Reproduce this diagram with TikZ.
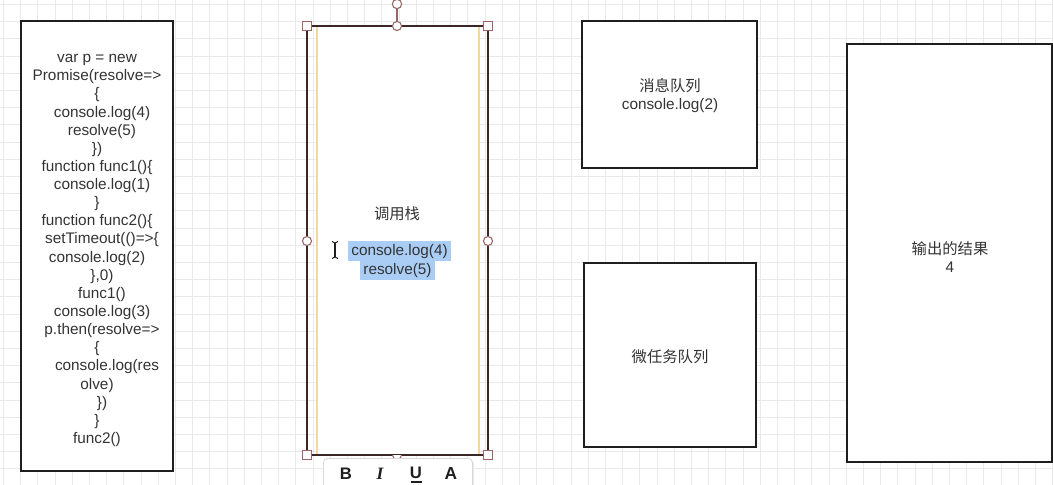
\documentclass[tikz,border=0pt]{standalone}
\usepackage{fontspec}
\setmainfont{Liberation Sans}
\newfontfamily\cjk{Noto Sans CJK SC}
\newfontfamily\serifbi{Liberation Serif}
\definecolor{gridc}{HTML}{E9E9E9}
\definecolor{boxc}{HTML}{1E1E1E}
\definecolor{txtc}{HTML}{333333}
\definecolor{selc}{HTML}{3A2626}
\definecolor{handc}{HTML}{9A6464}
\definecolor{yelc}{HTML}{F2D7A0}
\definecolor{hlc}{HTML}{AACDF6}
\definecolor{tbc}{HTML}{D8D8D8}
\newcommand{\sh}{\hspace*{7.5pt}}
\newcommand{\shh}{\hspace*{15pt}}
\tikzset{
  gridline/.style={draw=gridc, line width=0.75pt},
  box/.style 2 args={draw=boxc, line width=1.5pt, fill=white, minimum width=#1*0.75pt, minimum height=#2*0.75pt, inner sep=0pt},
  txt/.style={text=txtc, font=\fontsize{11.5}{13.6}\selectfont, align=center, inner sep=0pt},
  hl/.style={fill=hlc, inner xsep=2.6pt, inner ysep=0pt, text height=10.5pt, text depth=4.2pt},
  handle/.style={draw=handc, fill=white, line width=0.8pt},
  tbtxt/.style={text=boxc, inner sep=0pt},
}
\begin{document}
\begin{tikzpicture}[x=0.75pt, y=-0.75pt]
\useasboundingbox (0,0) rectangle (1053,485);
\fill[white] (0,0) rectangle (1053,485);
% grid
\foreach \i in {0,...,61} \draw[gridline] ({3.5+17.2*\i},0) -- ({3.5+17.2*\i},485);
\foreach \j in {0,...,28} \draw[gridline] (0,{4.5+17.2*\j}) -- (1053,{4.5+17.2*\j});

% code box
\node[box={152}{450}] (code) at (97,246) {};
\node[txt] (codetxt) at (97,250.5) {var p = new\\Promise(resolve=>\\\{\\\sh console.log(4)\\\sh resolve(5)\\\})\\function func1()\{\\\sh console.log(1)\\\}\\function func2()\{\\\sh setTimeout(()=>\{\\console.log(2)\\\sh \},0)\\\sh func1()\\\sh console.log(3)\\\sh p.then(resolve=>\\\{\\\shh console.log(res\\olve)\\\sh \})\\\}\\func2()};

% call stack (selected)
\node[box={162}{429}, draw=yelc, line width=1.5pt] (stack) at (397.5,240.5) {};
\draw[selc, line width=1.3pt] (307,26) rectangle (488,455);
\node[txt] (stacktitle) at (397,214) {\cjk 调用栈};
\node[txt, hl] (log4) at (399.5,251) {console.log(4)};
\node[txt, hl] (res5) at (397.5,270.5) {resolve(5)};
% text cursor
\draw[boxc, line width=0.9pt] (335,243) -- (335,257);
\draw[boxc, line width=0.8pt] (332,241.5) .. controls (334,241.5) .. (335,243) .. controls (336,241.5) .. (338,241.5);
\draw[boxc, line width=0.8pt] (332,258.5) .. controls (334,258.5) .. (335,257) .. controls (336,258.5) .. (338,258.5);
% selection handles
\coordinate (rotc) at (397,4);
\draw[handc, line width=1pt] (397,8.5) -- (397,21.5);
\node[handle, circle, minimum size=7pt, inner sep=0pt] (rot) at (rotc) {};
\node[handle, circle, minimum size=6.8pt, inner sep=0pt] (hT) at (397,26) {};
\node[handle, circle, minimum size=6.8pt, inner sep=0pt] (hL) at (307,241) {};
\node[handle, circle, minimum size=6.8pt, inner sep=0pt] (hR) at (488,241) {};
\draw[handle] (392.5,455) arc (180:0:4.5);
\foreach \p/\n in {{(307,26)}/tl, {(488,26)}/tr, {(307,455)}/bl, {(488,455)}/br}
  \node[handle, rectangle, minimum size=6.8pt, inner sep=0pt] (h\n) at \p {};

% toolbar
\fill[black!8, rounded corners=3pt] (324,460) rectangle (474,495);
\node[draw=tbc, fill=white, rounded corners=3pt, line width=0.6pt, minimum width=149*0.75pt, minimum height=40*0.75pt, anchor=north west, inner sep=0pt] (toolbar) at (323,458) {};
\node[tbtxt, font=\fontsize{12.5}{13}\selectfont\bfseries] (tbB) at (346,474) {B};
\node[tbtxt, font=\fontsize{13}{13}\serifbi\bfseries\itshape] (tbI) at (380,474) {I};
\node[tbtxt, font=\fontsize{12.5}{13}\selectfont\bfseries] (tbU) at (416,473) {U};
\draw[boxc, line width=1.1pt] (410.5,482) -- (421.5,482);
\node[tbtxt, font=\fontsize{13}{13}\selectfont\bfseries] (tbA) at (451,474) {A};

% message queue
\node[box={175}{147}] (msg) at (669.5,94.5) {};
\node[txt] (msgtxt) at (670,96) {{\cjk 消息队列}\\console.log(2)};

% microtask queue
\node[box={172}{184}] (micro) at (670,355) {};
\node[txt] (microtxt) at (670,357) {\cjk 微任务队列};

% output
\node[box={205}{418}] (out) at (949.5,253) {};
\node[txt] (outtxt) at (950,257) {{\cjk 输出的结果}\\4};
\end{tikzpicture}
\end{document}
